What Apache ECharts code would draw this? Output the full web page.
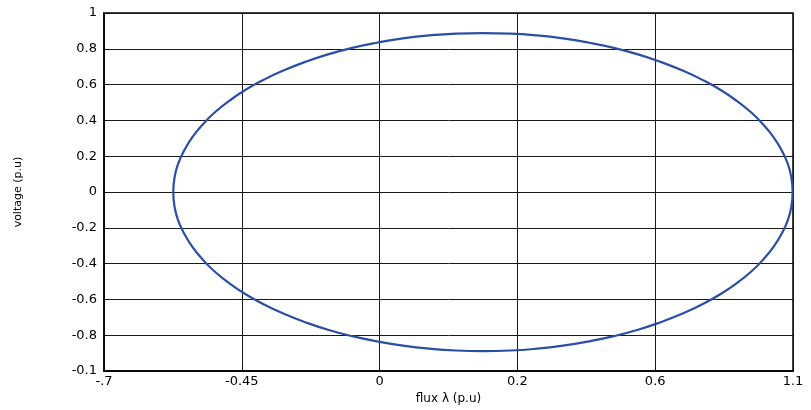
<!DOCTYPE html>
<html>
<head>
<meta charset="utf-8">
<script src="https://cdn.jsdelivr.net/npm/echarts@6/dist/echarts.min.js"></script>
<style>
html,body{margin:0;padding:0;background:#fff;}
#chart{width:811px;height:410px;}
</style>
</head>
<body>
<div id="chart"></div>
<script>
// x tick positions (linear axis) and the labels printed at them
const xTickValues = [-0.7, -0.34, 0.02, 0.38, 0.74, 1.1];
const xTickLabels = ['-.7', '-0.45', '0', '0.2', '0.6', '1.1'];
// y tick values and labels
const yTickValues = [-1, -0.8, -0.6, -0.4, -0.2, 0, 0.2, 0.4, 0.6, 0.8, 1];
const yTickLabels = ['-0.1', '-0.8', '-0.6', '-0.4', '-0.2', '0', '0.2', '0.4', '0.6', '0.8', '1'];
// loop points (flux, voltage)
const fluxValues = [
  1.099, 1.096, 1.087, 1.071, 1.050, 1.023, 0.991, 0.953, 0.910, 0.862,
  0.810, 0.754, 0.695, 0.632, 0.567, 0.499, 0.430, 0.361, 0.290, 0.220,
  0.150, 0.081, 0.013, -0.052, -0.115, -0.174, -0.230, -0.282, -0.330, -0.373,
  -0.411, -0.443, -0.470, -0.491, -0.507, -0.516, -0.519,
  -0.516, -0.507, -0.491, -0.470, -0.443, -0.411, -0.373, -0.330, -0.282, -0.230,
  -0.174, -0.115, -0.052, 0.013, 0.081, 0.150, 0.220, 0.290, 0.361, 0.430,
  0.499, 0.567, 0.632, 0.695, 0.754, 0.810, 0.862, 0.910, 0.953, 0.991,
  1.023, 1.050, 1.071, 1.087, 1.096, 1.099];
const voltageValues = [
  0, 0.077, 0.154, 0.230, 0.304, 0.375, 0.444, 0.509, 0.571, 0.628,
  0.680, 0.727, 0.769, 0.805, 0.834, 0.858, 0.875, 0.885, 0.888, 0.885,
  0.875, 0.858, 0.834, 0.805, 0.769, 0.727, 0.680, 0.628, 0.571, 0.509,
  0.444, 0.375, 0.304, 0.230, 0.154, 0.077, 0,
  -0.077, -0.154, -0.230, -0.304, -0.375, -0.444, -0.509, -0.571, -0.628, -0.680,
  -0.727, -0.769, -0.805, -0.834, -0.858, -0.875, -0.885, -0.888, -0.885, -0.875,
  -0.858, -0.834, -0.805, -0.769, -0.727, -0.680, -0.628, -0.571, -0.509, -0.444,
  -0.375, -0.304, -0.230, -0.154, -0.077, 0];

const loopData = fluxValues.map((x, i) => [x, voltageValues[i]]);

function nearestLabel(v, vals, labels) {
  let best = 0;
  for (let i = 1; i < vals.length; i++) {
    if (Math.abs(vals[i] - v) < Math.abs(vals[best] - v)) best = i;
  }
  return labels[best];
}

const font = 'DejaVu Sans';
const chart = echarts.init(document.getElementById('chart'));
chart.setOption({
  animation: false,
  backgroundColor: '#fff',
  grid: {
    left: 104, right: 18, top: 13, bottom: 38,
    show: true, borderColor: '#000', borderWidth: 1.5, containLabel: false
  },
  xAxis: {
    type: 'value', min: -0.7, max: 1.1,
    name: 'flux λ (p.u)', nameLocation: 'middle', nameGap: 20,
    nameTextStyle: { fontFamily: font, fontSize: 12, color: '#000' },
    axisLine: { show: true, onZero: false, lineStyle: { color: '#000', width: 1.5 } },
    axisTick: { show: true, inside: true, length: 4, customValues: xTickValues, lineStyle: { color: '#000' } },
    axisLabel: {
      customValues: xTickValues, color: '#000', fontFamily: font, fontSize: 13, margin: 4,
      formatter: v => nearestLabel(v, xTickValues, xTickLabels)
    },
    splitLine: { show: true, lineStyle: { color: '#1a1a1a', width: 1 } }
  },
  yAxis: {
    type: 'value', min: -1, max: 1, interval: 0.2,
    name: 'voltage (p.u)', nameLocation: 'middle', nameGap: 80, nameRotate: 90,
    nameTextStyle: { fontFamily: font, fontSize: 11, color: '#000' },
    axisLine: { show: true, onZero: false, lineStyle: { color: '#000', width: 1.5 } },
    axisTick: { show: true, inside: true, length: 4, lineStyle: { color: '#000' } },
    axisLabel: {
      color: '#000', fontFamily: font, fontSize: 13, margin: 7,
      formatter: v => nearestLabel(v, yTickValues, yTickLabels)
    },
    splitLine: { show: true, lineStyle: { color: '#1a1a1a', width: 1 } }
  },
  series: [{
    type: 'line', data: loopData, smooth: true, showSymbol: false,
    lineStyle: { color: '#2b4fa3', width: 2.2 }, clip: false
  }]
});
</script>
</body>
</html>
